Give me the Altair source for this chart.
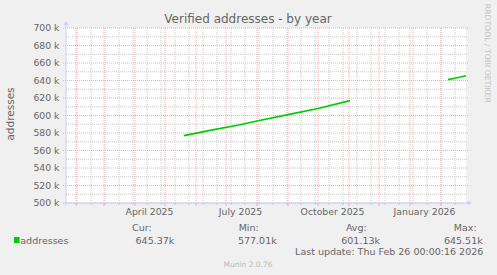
import altair as alt
import pandas as pd

# ---- data (values in addresses) ----
seg1_dates = ["2025-05-20", "2025-06-15", "2025-07-15", "2025-08-01", "2025-09-01", "2025-10-01", "2025-11-02"]
seg1_vals = [577010, 583000, 589500, 593700, 601000, 608000, 617000]
seg2_dates = ["2026-02-08", "2026-02-17", "2026-02-26"]
seg2_vals = [641000, 643200, 645370]

x_label_dates = ["2025-04-15", "2025-07-15", "2025-10-15", "2026-01-15"]
x_label_texts = ["April 2025", "July 2025", "October 2025", "January 2026"]

y_major = [500000, 520000, 540000, 560000, 580000, 600000, 620000, 640000, 660000, 680000, 700000]
y_major_labels = ["500 k", "520 k", "540 k", "560 k", "580 k", "600 k", "620 k", "640 k", "660 k", "680 k", "700 k"]
y_minor = [510000, 530000, 550000, 570000, 590000, 610000, 630000, 650000, 670000, 690000]

month_starts = [d.strftime("%Y-%m-%dT00:00:00Z") for d in pd.date_range("2025-02-01", "2026-02-01", freq="MS")]
biweekly = [d.strftime("%Y-%m-%dT00:00:00Z") for d in pd.date_range("2025-02-02", "2026-02-15", freq="14D")]

title_text = "Verified addresses - by year"
legend_name = "addresses"
stats_heads = ["Cur:", "Min:", "Avg:", "Max:"]
stats_vals = ["645.37k", "577.01k", "601.13k", "645.51k"]
last_update = "Last update: Thu Feb 26 00:00:16 2026"

# ---- styling ----
W, H = 400, 175
FONT = "DejaVu Sans"
TXT = "#666666"
RED = "#EBB0B0"
GRAY = "#C8C8C8"
AXIS = "#C8D0F4"
GREEN = "#00CC00"

xscale = alt.Scale(type="utc",
                   domain=[alt.DateTime(year=2025, month=1, date=22, utc=True),
                           alt.DateTime(year=2026, month=2, date=26, utc=True)])
yscale = alt.Scale(domain=[500000, 700000], nice=False, zero=False)

def X(field):
    return alt.X(field, type="temporal", scale=xscale, axis=None)

def Y(field):
    return alt.Y(field, type="quantitative", scale=yscale, axis=None)

rows = []
for d, v in zip(seg1_dates, seg1_vals):
    rows.append({"date": d + "T00:00:00Z", "v": v, "seg": "a"})
for d, v in zip(seg2_dates, seg2_vals):
    rows.append({"date": d + "T00:00:00Z", "v": v, "seg": "b"})
line_df = pd.DataFrame(rows)

one = alt.Data(values=[{"k": 1}])

def label(s, x, y, size=9.3, align="left", color=TXT, angle=0, baseline="alphabetic"):
    return alt.Chart(alt.Data(values=[{"t": s}])).mark_text(
        align=align, baseline=baseline, fontSize=size, font=FONT, color=color, angle=angle
    ).encode(x=alt.value(x), y=alt.value(y), text="t:N")

minor_h = alt.Chart(pd.DataFrame({"v": y_minor})).mark_rule(
    color=GRAY, strokeDash=[1, 1], strokeWidth=1).encode(
    y=Y("v"), x=alt.value(0), x2=alt.value(W + 1))
minor_v = alt.Chart(pd.DataFrame({"d": biweekly})).mark_rule(
    color=GRAY, strokeDash=[1, 1], strokeWidth=1).encode(
    x=X("d"), y=alt.value(0), y2=alt.value(H))
minor_vt = alt.Chart(pd.DataFrame({"d": biweekly})).mark_rule(
    color=GRAY, strokeWidth=1).encode(
    x=X("d"), y=alt.value(H), y2=alt.value(H + 2))
major_h = alt.Chart(pd.DataFrame({"v": y_major})).mark_rule(
    color=RED, strokeDash=[1, 1], strokeWidth=1).encode(
    y=Y("v"), x=alt.value(-3), x2=alt.value(W + 2))
major_v = alt.Chart(pd.DataFrame({"d": month_starts})).mark_rule(
    color=RED, strokeDash=[1, 1], strokeWidth=1).encode(
    x=X("d"), y=alt.value(0), y2=alt.value(H))
major_vt = alt.Chart(pd.DataFrame({"d": month_starts})).mark_rule(
    color=RED, strokeWidth=1).encode(
    x=X("d"), y=alt.value(H), y2=alt.value(H + 3))

axis_left = alt.Chart(one).mark_rule(color=AXIS, strokeWidth=1).encode(
    x=alt.value(0), y=alt.value(-4), y2=alt.value(H + 2))
axis_bottom = alt.Chart(one).mark_rule(color=AXIS, strokeWidth=1).encode(
    y=alt.value(H), x=alt.value(-3), x2=alt.value(W + 3))
arrow_up = alt.Chart(one).mark_point(shape="triangle-up", filled=True, size=22, color=AXIS, opacity=1).encode(
    x=alt.value(0), y=alt.value(-5))
arrow_right = alt.Chart(one).mark_point(shape="triangle-right", filled=True, size=22, color=AXIS, opacity=1).encode(
    x=alt.value(W + 4), y=alt.value(H))

data_line = alt.Chart(line_df).mark_line(color=GREEN, strokeWidth=1.6).encode(
    x=X("date"), y=Y("v"), detail="seg:N")

ylabels = alt.Chart(pd.DataFrame({"v": y_major, "t": y_major_labels})).mark_text(
    align="right", baseline="middle", fontSize=9.3, font=FONT, color=TXT).encode(
    y=Y("v"), x=alt.value(-6.5), text="t:N")
xlabels = alt.Chart(pd.DataFrame({"d": [d + "T12:00:00Z" for d in x_label_dates], "t": x_label_texts})).mark_text(
    align="center", baseline="alphabetic", fontSize=9.3, font=FONT, color=TXT).encode(
    x=X("d"), y=alt.value(187), text="t:N")

legend_box = alt.Chart(one).mark_rect(color=GREEN).encode(
    x=alt.value(-52), x2=alt.value(-46.5), y=alt.value(209), y2=alt.value(215))

texts = [
    label(title_text, 182, -5, size=12, align="center"),
    label("addresses", -55, 86, size=10.5, align="center", angle=270, baseline="middle"),
    label("RRDTOOL / TOBI OETIKER", 421, 25.3, size=7.7, align="center", color="#C4C4C4", angle=90, baseline="middle"),
    label(legend_name, -45.7, 215.5, size=9.5),
    label(stats_heads[0], 85.7, 202.7, size=9.5, align="right"),
    label(stats_vals[0], 108.3, 215.5, size=9.5, align="right"),
    label(stats_heads[1], 192.7, 202.7, size=9.5, align="right"),
    label(stats_vals[1], 210.7, 215.5, size=9.5, align="right"),
    label(stats_heads[2], 300.7, 202.7, size=9.5, align="right"),
    label(stats_vals[2], 314, 215.5, size=9.5, align="right"),
    label(stats_heads[3], 410.7, 202.7, size=9.5, align="right"),
    label(stats_vals[3], 416.7, 215.5, size=9.5, align="right"),
    label(last_update, 417.3, 227, size=9.5, align="right"),
    label("Munin 2.0.76", 182, 238.7, size=7.5, align="center", color="#BBBBBB"),
]

chart = alt.layer(
    minor_h, minor_v, major_h, major_v, minor_vt, major_vt,
    axis_left, axis_bottom, arrow_up, arrow_right,
    data_line, ylabels, xlabels, legend_box, *texts
).properties(
    width=W, height=H,
    padding={"left": 66, "top": 28, "right": 31, "bottom": 72},
    autosize=alt.AutoSizeParams(type="none"),
    background="#F0F0F0",
).configure_view(fill="white", stroke=None)

chart.save("out.html", embed_options={"renderer": "svg", "actions": False})
